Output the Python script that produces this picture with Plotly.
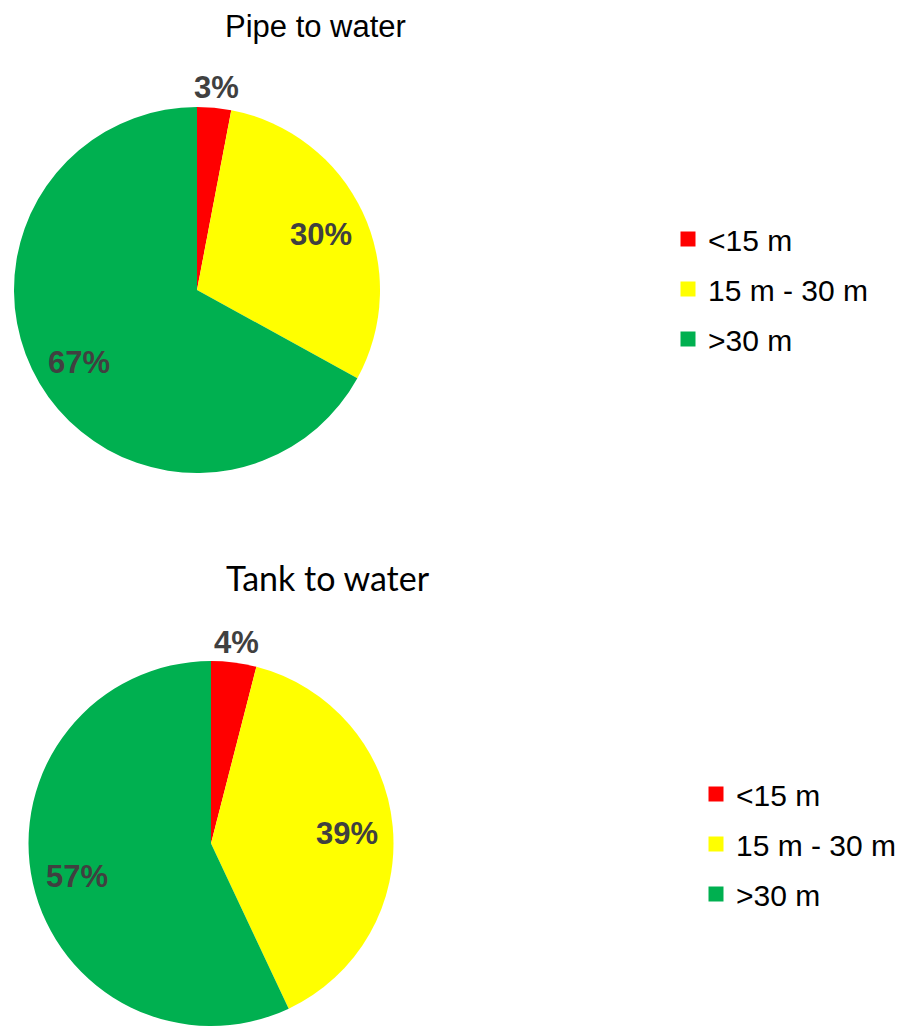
import math
import plotly.graph_objects as go

# Distance bands and share of sites in each band
categories = ["<15 m", "15 m - 30 m", ">30 m"]
pipe_values = [3, 30, 67]
tank_values = [4, 39, 57]
band_colors = ["#FF0000", "#FFFF00", "#00B050"]
chart_titles = ["Pipe to water", "Tank to water"]

W, H = 911, 1026

# Pie placement in paper coordinates
pipe_domain = dict(x=[14 / W, 380 / W], y=[1 - 473 / H, 1 - 107 / H])
tank_domain = dict(x=[28.5 / W, 393.5 / W], y=[0.0, 1 - 661 / H])

label_font = dict(family="Liberation Sans, Arial, sans-serif", size=31, color="#404040")
legend_font = dict(family="Liberation Sans, Arial, sans-serif", size=30, color="#000000")

fig = go.Figure()


def add_pie(values, domain, legend_name, group_prefix):
    fig.add_trace(go.Pie(
        labels=categories,
        values=values,
        domain=domain,
        sort=False,
        direction="clockwise",
        rotation=0,
        marker=dict(colors=band_colors, line=dict(width=0)),
        textinfo="none",
        hoverinfo="label+percent",
        showlegend=False,
    ))
    # legend entries, one group per band so the rows can be spaced apart
    for cat, col in zip(categories, band_colors):
        fig.add_trace(go.Scatter(
            x=[None], y=[None], mode="markers",
            marker=dict(symbol="square", size=15, color=col),
            name=cat, legend=legend_name,
            legendgroup=f"{group_prefix}-{cat}",
            showlegend=True, hoverinfo="skip",
        ))


def slice_labels(values, domain):
    """Percentage labels placed along each slice's mid angle."""
    x0, x1 = domain["x"][0] * W, domain["x"][1] * W
    y0, y1 = (1 - domain["y"][1]) * H, (1 - domain["y"][0]) * H
    cx, cy = (x0 + x1) / 2, (y0 + y1) / 2
    r = min(x1 - x0, y1 - y0) / 2
    total = sum(values)
    start = 0.0
    anns = []
    for v in values:
        frac = v / total
        mid = (start + frac / 2) * 2 * math.pi
        start += frac
        outside = frac < 0.1
        rf = 1.11 if outside else 0.75
        px = cx + rf * r * math.sin(mid)
        py = cy - rf * r * math.cos(mid) + (0 if outside else 3)
        anns.append(dict(
            x=px / W, y=1 - py / H, xref="paper", yref="paper",
            text=f"<b>{round(frac * 100)}%</b>", showarrow=False,
            font=label_font, xanchor="center", yanchor="middle",
        ))
    return anns


add_pie(pipe_values, pipe_domain, "legend", "pipe")
add_pie(tank_values, tank_domain, "legend2", "tank")

annotations = []
annotations += slice_labels(pipe_values, pipe_domain)
annotations += slice_labels(tank_values, tank_domain)
annotations.append(dict(
    x=315 / W, y=1 - 27 / H, xref="paper", yref="paper", text=chart_titles[0],
    showarrow=False, xanchor="center", yanchor="middle",
    font=dict(family="Liberation Sans, Arial, sans-serif", size=31, color="#000000"),
))
annotations.append(dict(
    x=328 / W, y=1 - 577 / H, xref="paper", yref="paper", text=chart_titles[1],
    showarrow=False, xanchor="center", yanchor="middle",
    font=dict(family="Lato, sans-serif", size=34, color="#000000"),
))

legend_common = dict(
    font=legend_font, bgcolor="rgba(0,0,0,0)", borderwidth=0,
    xanchor="left", yanchor="middle", tracegroupgap=8,
    itemclick=False, itemdoubleclick=False,
)

fig.update_layout(
    width=W, height=H,
    margin=dict(l=0, r=0, t=0, b=0),
    paper_bgcolor="white", plot_bgcolor="white",
    xaxis=dict(visible=False), yaxis=dict(visible=False),
    annotations=annotations,
    legend=dict(x=668 / W, y=1 - 289 / H, **legend_common),
    legend2=dict(x=696 / W, y=1 - 844 / H, **legend_common),
)

fig.write_html("out.html")
